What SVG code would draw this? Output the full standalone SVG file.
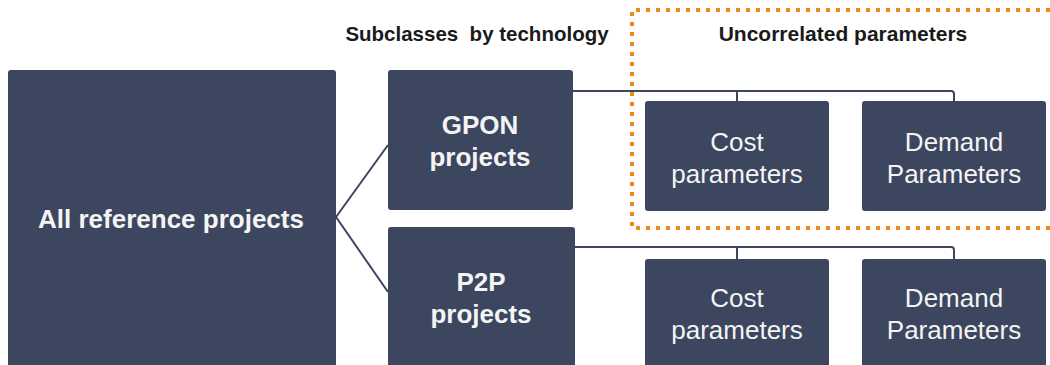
<svg xmlns="http://www.w3.org/2000/svg" width="1050" height="365" viewBox="0 0 1050 365">
<style>
.box{fill:#3c465f;}
.lb{font-family:"Liberation Sans",Arial,sans-serif;font-size:26px;fill:#f4f4f4;text-anchor:middle;}
.b{font-weight:bold;}
.hd{font-family:"Liberation Sans",Arial,sans-serif;font-size:21px;font-weight:bold;fill:#1a1a1a;text-anchor:middle;}
.con{fill:none;stroke:#3c465f;stroke-width:2;}
.grp{fill:none;stroke:#ef8a17;stroke-width:4;stroke-dasharray:4 6;}
</style>
<rect width="1050" height="365" fill="#ffffff"/>
<path class="grp" d="M1050,10 H632 V228 H1050"/>
<text class="hd" x="477" y="41" style="font-size:20.5px">Subclasses&#160; by technology</text>
<text class="hd" x="843" y="41">Uncorrelated parameters</text>
<g id="connectors">
<path class="con" d="M336,217 L388,145"/>
<path class="con" d="M336,217 L388,292"/>
<path class="con" d="M573,91 H951 Q954,91 954,94 V101"/>
<path class="con" d="M737,91 V101"/>
<path class="con" d="M575,247 H951 Q954,247 954,250 V259"/>
<path class="con" d="M737,247 V259"/>
</g>
<g id="all">
<rect class="box" x="8" y="70" width="328" height="310" rx="3"/>
<text class="lb b" x="171" y="228">All reference projects</text>
</g>
<g id="gpon">
<rect class="box" x="388" y="70" width="185" height="140" rx="3"/>
<text class="lb b" x="480" y="134">GPON</text>
<text class="lb b" x="480" y="166">projects</text>
</g>
<g id="p2p">
<rect class="box" x="388" y="227" width="187" height="150" rx="3"/>
<text class="lb b" x="481" y="291">P2P</text>
<text class="lb b" x="481" y="323">projects</text>
</g>
<g id="cost1">
<rect class="box" x="645" y="101" width="184" height="110" rx="3"/>
<text class="lb" x="737" y="151">Cost</text>
<text class="lb" x="737" y="183">parameters</text>
</g>
<g id="demand1">
<rect class="box" x="862" y="101" width="184" height="110" rx="3"/>
<text class="lb" x="954" y="151">Demand</text>
<text class="lb" x="954" y="183">Parameters</text>
</g>
<g id="cost2">
<rect class="box" x="645" y="259" width="184" height="120" rx="3"/>
<text class="lb" x="737" y="307">Cost</text>
<text class="lb" x="737" y="339">parameters</text>
</g>
<g id="demand2">
<rect class="box" x="862" y="259" width="184" height="120" rx="3"/>
<text class="lb" x="954" y="307">Demand</text>
<text class="lb" x="954" y="339">Parameters</text>
</g>
</svg>
